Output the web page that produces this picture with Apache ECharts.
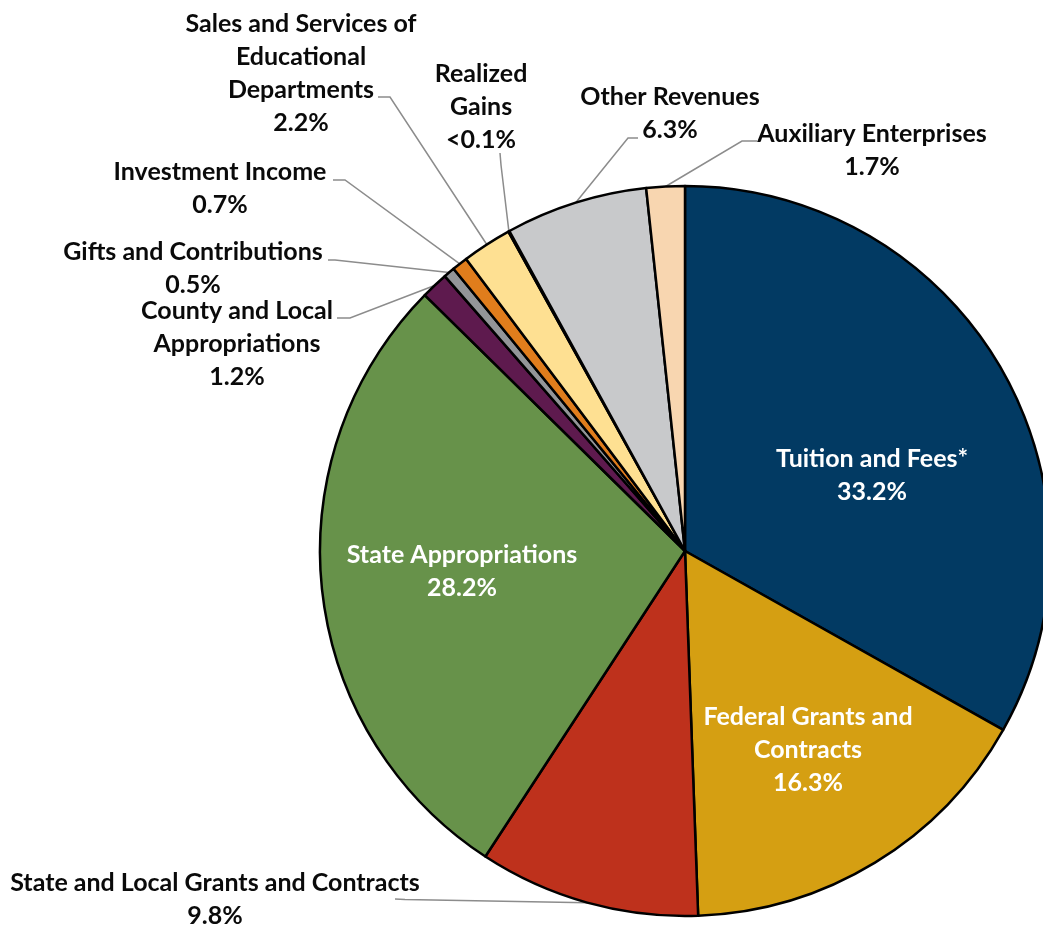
<!DOCTYPE html>
<html>
<head>
<meta charset="utf-8">
<script src="https://cdn.jsdelivr.net/npm/echarts@6/dist/echarts.min.js"></script>
<style>
  html, body { margin: 0; padding: 0; background: #ffffff; }
  #chart { width: 1043px; height: 929px; }
</style>
</head>
<body>
<div id="chart"></div>
<script>
// Revenue sources, in drawing order (clockwise from 12 o'clock)
const categories = [
  'Tuition and Fees*',
  'Federal Grants and\nContracts',
  'State and Local Grants and Contracts',
  'State Appropriations',
  'County and Local\nAppropriations',
  'Gifts and Contributions',
  'Investment Income',
  'Sales and Services of\nEducational\nDepartments',
  'Realized\nGains',
  'Other Revenues',
  'Auxiliary Enterprises'
];
// Share of total revenue, percent
const shares = [33.2, 16.3, 9.8, 28.2, 1.2, 0.5, 0.7, 2.2, 0.05, 6.3, 1.7];
const sliceColors = [
  '#023a63', '#d59f12', '#be311c', '#67924a', '#5e1a4e', '#939598',
  '#e07d1c', '#fee092', '#c8c9cb', '#c8c9cb', '#f8d6b0'
];

// Where each label sits; outside labels get a leader line ending at the text
const labelPlacement = [
  { x: 872, y: 475, inside: true },
  { x: 808, y: 750, inside: true },
  { x: 215, y: 899, line: [[405, 899.5], [395, 899]] },
  { x: 462, y: 571, inside: true },
  { x: 237, y: 344, line: [[350, 318], [337, 318]] },
  { x: 193, y: 268, line: [[335, 260], [328, 260]] },
  { x: 220, y: 188, line: [[345, 180], [333, 180]] },
  { x: 301, y: 73, line: [[390, 97], [378, 97]] },
  { x: 481, y: 107, line: [[501, 165], [500, 153]] },
  { x: 670, y: 113, line: [[628, 138], [638, 138]] },
  { x: 872, y: 150, line: [[742, 141], [757, 141]] }
];

const fmtShare = v => (v < 0.1 ? '<0.1' : v.toFixed(1)) + '%';

const seriesData = categories.map((name, i) => {
  const place = labelPlacement[i];
  return {
    name,
    value: shares[i],
    itemStyle: { color: sliceColors[i] },
    label: {
      position: place.inside ? 'inside' : 'outside',
      color: place.inside ? '#ffffff' : '#0a0a0a'
    },
    labelLine: { show: !place.inside }
  };
});

const chart = echarts.init(document.getElementById('chart'), null, { renderer: 'canvas' });

chart.setOption({
  backgroundColor: '#ffffff',
  animation: false,
  series: [{
    type: 'pie',
    center: [685, 551],
    radius: 365,
    startAngle: 90,
    clockwise: true,
    avoidLabelOverlap: false,
    silent: true,
    data: seriesData,
    itemStyle: { borderColor: '#000000', borderWidth: 2.5 },
    label: {
      show: true,
      formatter: p => p.name + '\n' + fmtShare(p.value),
      fontFamily: 'Lato',
      fontWeight: 'bold',
      fontSize: 25,
      lineHeight: 33,
      align: 'center'
    },
    labelLine: {
      show: true,
      length: 10,
      length2: 10,
      lineStyle: { color: '#8c8c8c', width: 1.5 }
    },
    labelLayout: params => {
      const place = labelPlacement[params.dataIndex];
      const out = { x: place.x, y: place.y, align: 'center', verticalAlign: 'middle' };
      if (place.line && params.labelLinePoints) {
        out.labelLinePoints = [params.labelLinePoints[0]].concat(place.line);
      }
      return out;
    }
  }]
});
</script>
</body>
</html>
